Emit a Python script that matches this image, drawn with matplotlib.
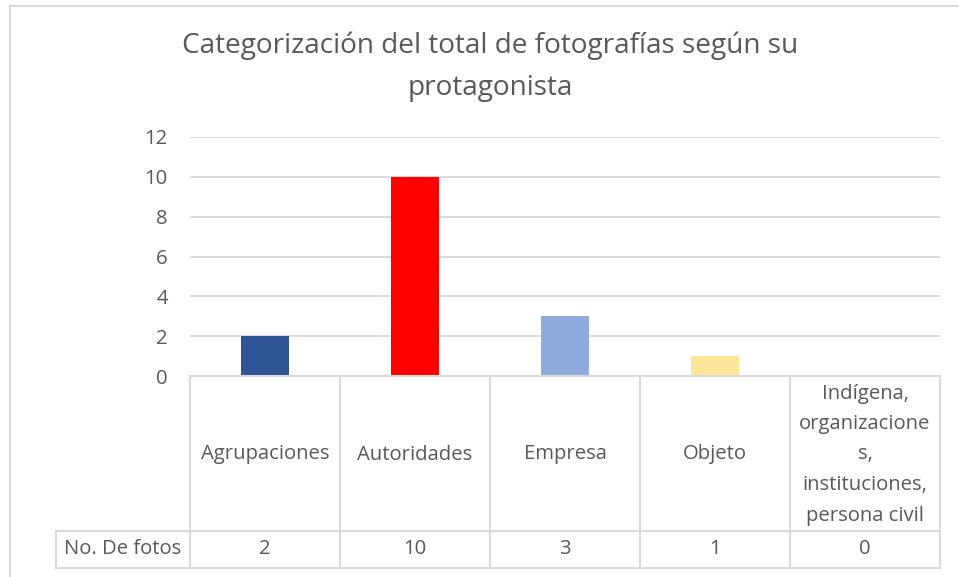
import matplotlib
matplotlib.use("Agg")
import matplotlib.pyplot as plt
from matplotlib.patches import Rectangle
from matplotlib.lines import Line2D

categories = ["Agrupaciones", "Autoridades", "Empresa", "Objeto",
              "Indígena,\norganizacione\ns,\ninstituciones,\npersona civil"]
values = [2, 10, 3, 1, 0]
bar_colors = ["#2F5597", "#FF0000", "#8FAADC", "#FFE699", "#A5A5A5"]
series_name = "No. De fotos"
title = "Categorización del total de fotografías según su\nprotagonista"
yticks = [0, 2, 4, 6, 8, 10, 12]

W, H = 959, 577
plt.rcParams['font.family'] = ['Open Sans', 'DejaVu Sans']
TXT = "#595959"
GRID = "#D9D9D9"
FS = 14.6

fig = plt.figure(figsize=(W / 100, H / 100), dpi=100)

def fx(px):
    return px / W

def fy(py):
    return 1 - py / H

# plot area in pixels
L, R, T, B = 190, 940, 137, 376
ax = fig.add_axes([fx(L), fy(B), fx(R) - fx(L), fy(T) - fy(B)])
x = list(range(len(categories)))
ax.bar(x, values, width=0.32, color=bar_colors, zorder=3)
ax.set_xlim(-0.5, len(categories) - 0.5)
ax.set_ylim(0, 12)
ax.set_yticks(yticks)
ax.set_yticklabels([str(v) for v in yticks], fontsize=FS, color=TXT)
ax.tick_params(axis='y', length=0, pad=16)
ax.set_xticks([])
ax.grid(axis='y', color=GRID, linewidth=1.3, zorder=0)
for s in ax.spines.values():
    s.set_visible(False)

# figure border
fig.patches.append(Rectangle((fx(10), fy(H + 20)), 2, fy(6) - fy(H + 20),
                             transform=fig.transFigure, fill=False,
                             edgecolor=GRID, linewidth=1.5))

# data table
row1_top, row_div, row2_bot = 376, 531, 568
label_left = 56
def hline(x0, x1, y):
    fig.add_artist(Line2D([fx(x0), fx(x1)], [fy(y), fy(y)], color=GRID, linewidth=1.5))
def vline(xp, y0, y1):
    fig.add_artist(Line2D([fx(xp), fx(xp)], [fy(y0), fy(y1)], color=GRID, linewidth=1.5))

hline(L, R, row1_top)
hline(label_left, R, row_div)
hline(label_left, R, row2_bot)
cw = (R - L) / len(categories)
for i in range(len(categories) + 1):
    vline(L + i * cw, row1_top, row2_bot)
vline(label_left, row_div, row2_bot)

for i, (c, v) in enumerate(zip(categories, values)):
    cx = L + (i + 0.5) * cw
    fig.text(fx(cx), fy((row1_top + row_div) / 2 + 1), c, ha='center', va='center',
             fontsize=FS, color=TXT, linespacing=1.7)
    fig.text(fx(cx), fy((row_div + row2_bot) / 2), str(v), ha='center', va='center',
             fontsize=FS, color=TXT)
fig.text(fx((label_left + L) / 2), fy((row_div + row2_bot) / 2), series_name,
         ha='center', va='center', fontsize=FS, color=TXT)

fig.text(fx(490), fy(67), title, ha='center', va='center', fontsize=20.2,
         color=TXT, linespacing=1.65)

fig.savefig("out.png", dpi=100, facecolor="white")
